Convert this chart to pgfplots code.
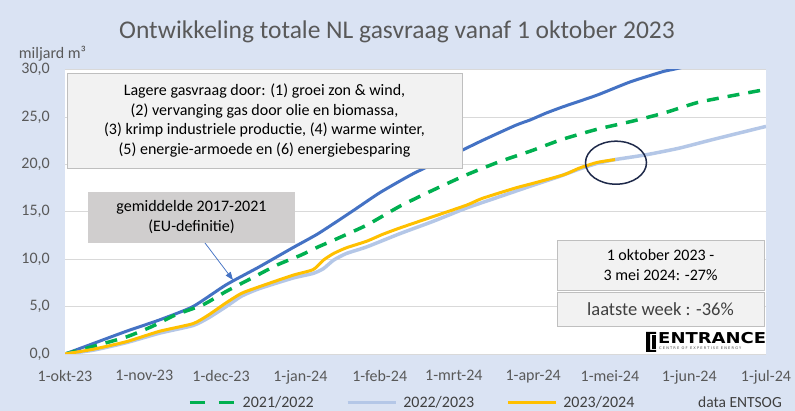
\documentclass[border=0pt]{standalone}
\usepackage{pgfplots}
\pgfplotsset{compat=1.18}
\usepackage{fontspec}
\setmainfont{Carlito}
\newfontfamily\logofont{DejaVu Sans}
\usetikzlibrary{arrows.meta}
\definecolor{bg}{HTML}{DAE3F3}
\definecolor{titlec}{HTML}{595959}
\definecolor{tickc}{HTML}{595959}
\definecolor{legc}{HTML}{404040}
\definecolor{gridc}{HTML}{D9D9D9}
\definecolor{boxf}{HTML}{F2F2F2}
\definecolor{boxb}{HTML}{BFBFBF}
\definecolor{boxg}{HTML}{D0CECE}
\definecolor{dblue}{HTML}{4472C4}
\definecolor{dgreen}{HTML}{00B050}
\definecolor{lblue}{HTML}{B4C7E7}
\definecolor{gold}{HTML}{FFC000}
\definecolor{navy}{HTML}{1F2A4A}
\pgfplotsset{greenleg/.style={legend image code/.code={\draw[##1, dash pattern=on 15bp off 14bp] (0bp,0bp) -- (45bp,0bp);}}}
\begin{document}
\begin{tikzpicture}
\fill[bg] (0,0) rectangle (795bp,411bp);
\begin{axis}[
  at={(65bp,57bp)}, anchor=south west,
  scale only axis, width=701bp, height=284.5bp,
  xmin=0, xmax=274, ymin=0, ymax=30,
  axis background/.style={fill=white},
  axis line style={draw=none},
  major tick length=0pt,
  xtick={0,31,61,92,123,152,183,213,244,274},
  xticklabels={1-okt-23,1-nov-23,1-dec-23,1-jan-24,1-feb-24,1-mrt-24,1-apr-24,1-mei-24,1-jun-24,1-jul-24},
  ytick={0,5,10,15,20,25,30},
  ymajorgrids, grid style={draw=gridc, line width=0.75bp},
  /pgf/number format/assume math mode=true,
  tick label style={font=\fontsize{16bp}{19bp}\selectfont, text=tickc},
  yticklabel style={/pgf/number format/.cd, fixed, fixed zerofill, precision=1, use comma, /tikz/.cd, anchor=east, inner sep=0pt, xshift=-15bp},
  xticklabel style={anchor=north, inner sep=0pt, yshift=-16bp},
  legend style={at={(0.1755,-0.170)}, anchor=west, draw=none, fill=none, inner sep=0pt,
    legend columns=3, font=\fontsize{16bp}{19bp}\selectfont, text=legc,
    nodes={inner sep=0pt},
    /tikz/every odd column/.append style={column sep=6bp},
    /tikz/every even column/.append style={column sep=32bp}},
  legend cell align=left,
  legend image code/.code={\draw[#1] (0bp,0bp) -- (48bp,0bp);},
  every axis plot/.append style={smooth, tension=0.35},
]
\addplot[dblue, line width=3bp, forget plot] coordinates {
(0,0)(11,1.1)(24,2.4)(37,3.6)(50,5.0)(63,7.3)(76,9.2)(89,11.2)(99,12.7)(112,15.0)(123,17.0)(136,19.0)(150,20.8)(163,22.5)(176,24.1)(182,24.7)(188,25.4)(195,26.1)(208,27.3)(221,28.7)(234,29.8)(240,30.15)(274,32.4)
};
\addplot[dgreen, line width=3.5bp, dash pattern=on 12bp off 9bp, greenleg] coordinates {
(0,0)(11,0.8)(24,1.8)(34,2.9)(43,4.1)(54,5.2)(63,6.6)(73,8.0)(83,9.4)(92,10.4)(99,11.3)(105,12.0)(118,13.6)(131,15.6)(144,17.3)(157,18.9)(170,20.3)(182,21.4)(194,22.6)(208,23.7)(221,24.5)(234,25.4)(247,26.5)(260,27.2)(274,27.9)
};
\addlegendentry{2021/2022}
\addplot[lblue, line width=3.5bp] coordinates {
(0,0)(11,0.4)(24,1.2)(37,2.2)(50,3.0)(56,3.8)(63,5.0)(69,6.1)(76,6.9)(89,8.0)(97,8.5)(101,9.0)(105,9.9)(110,10.6)(118,11.3)(131,12.7)(144,14.0)(157,15.4)(170,16.6)(183,17.8)(193,18.7)(201,19.5)(208,20.1)(215,20.5)(227,21.0)(240,21.7)(253,22.6)(274,24.0)
};
\addlegendentry{2022/2023}
\addplot[gold, line width=3bp] coordinates {
(0,0)(11,0.5)(24,1.3)(37,2.4)(50,3.2)(56,4.1)(63,5.4)(69,6.4)(76,7.1)(89,8.3)(97,8.9)(101,9.9)(105,10.6)(110,11.2)(118,11.9)(124,12.6)(131,13.3)(144,14.5)(157,15.7)(163,16.4)(176,17.5)(183,18.0)(195,18.9)(201,19.6)(208,20.2)(215,20.5)
};
\addlegendentry{2023/2024}
\end{axis}
% title and unit
\node[font=\fontsize{25.5bp}{30bp}\selectfont, text=titlec, anchor=base] at (397bp,372bp) {Ontwikkeling totale NL gasvraag vanaf 1 oktober 2023};
\node[font=\fontsize{16bp}{19bp}\selectfont, text=tickc, anchor=base] at (52.5bp,352bp) {miljard m³};
% box 1
\node[draw=boxb, line width=0.75bp, fill=boxf, minimum width=395bp, minimum height=95bp, align=center,
  font=\fontsize{16bp}{19.7bp}\selectfont, inner sep=0pt] at (264.5bp,290.5bp)
  {Lagere gasvraag door: (1) groei zon \& wind,\\(2) vervanging gas door olie en biomassa,\\(3) krimp industriele productie, (4) warme winter,\\(5) energie-armoede en (6) energiebesparing};
% box 2 + arrow
\node[fill=boxg, minimum width=207bp, minimum height=51bp, align=center,
  font=\fontsize{16bp}{20bp}\selectfont, inner sep=0pt] at (191.5bp,193.5bp)
  {gemiddelde 2017-2021\\(EU-definitie)};
\draw[dblue, line width=0.75bp, -{Triangle[length=8bp,width=6bp]}] (205bp,168bp) -- (233bp,131bp);
% ellipse
\draw[navy, line width=1.5bp] (616bp,248.3bp) ellipse [x radius=30.5bp, y radius=21.5bp];
% box 3, 4
\node[draw=boxb, line width=0.75bp, fill=boxf, minimum width=207bp, minimum height=50bp, align=center,
  font=\fontsize{16bp}{20bp}\selectfont, inner sep=0pt] at (660.5bp,146bp)
  {1 oktober 2023 -\\3 mei 2024: -27\%};
\node[draw=boxb, line width=0.75bp, fill=boxf, minimum width=207bp, minimum height=34bp, align=center,
  font=\fontsize{18.5bp}{22bp}\selectfont, text=legc, inner sep=0pt] at (660.5bp,102bp)
  {laatste week : -36\%};
% logo
\fill[black] (646bp,79bp) -- (656bp,79bp) -- (656bp,77bp) -- (650bp,77bp) -- (650bp,61bp) -- (656bp,61bp) -- (656bp,59bp) -- (646bp,59bp) -- cycle;
\fill[black] (652bp,62bp) rectangle (656bp,76bp);
\node[font=\logofont\bfseries\fontsize{15bp}{15bp}\selectfont, xscale=1.2, anchor=base west, inner sep=0pt] at (658bp,67bp) {ENTRANCE};
\node[font=\logofont\fontsize{3.6bp}{4bp}\selectfont, anchor=base west, inner sep=0pt, text=black!70] at (659bp,61bp) {C E N T R E\ \ O F\ \ E X P E R T I S E\ \ E N E R G Y};
% source
\node[font=\fontsize{15.5bp}{18bp}\selectfont, text=legc, anchor=base] at (740bp,4bp) {data ENTSOG};
\pgfresetboundingbox
\useasboundingbox (0,0) rectangle (795bp,411bp);
\end{tikzpicture}
\end{document}
